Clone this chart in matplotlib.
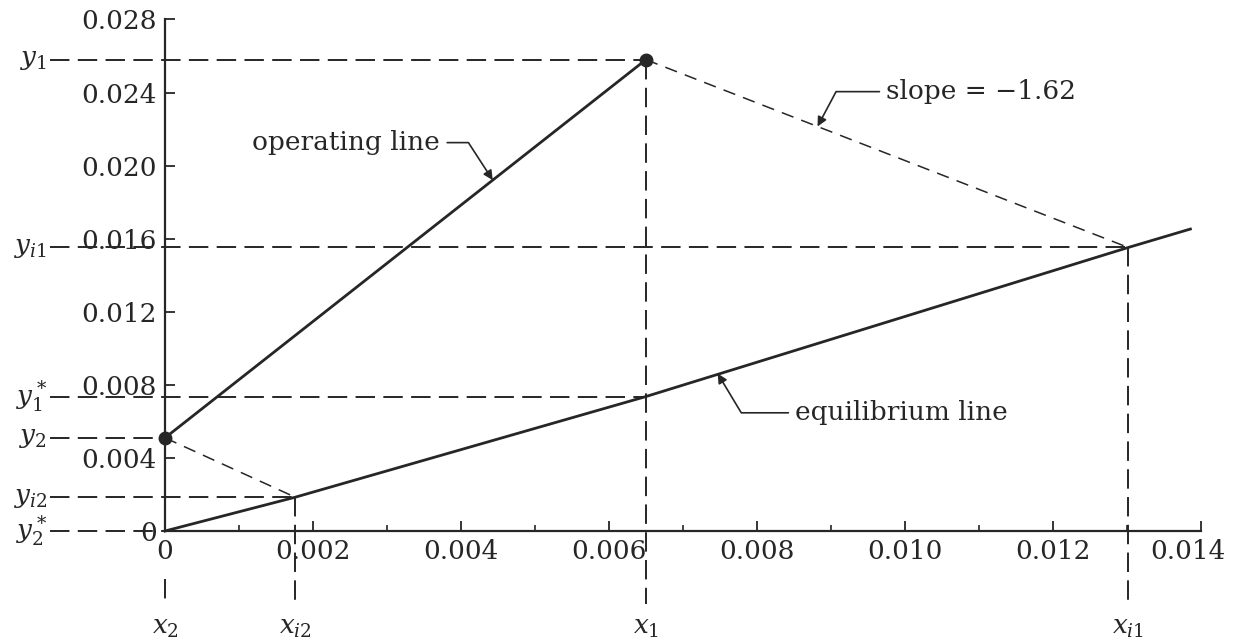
import matplotlib
matplotlib.use("Agg")
import matplotlib.pyplot as plt
from matplotlib.ticker import FixedLocator, FixedFormatter, MultipleLocator

plt.rcParams['font.family'] = ['DejaVu Serif']
plt.rcParams['mathtext.fontset'] = 'dejavuserif'
plt.rcParams['lines.scale_dashes'] = False

# 坐标轴刻度
x_ticks = [0, 0.002, 0.004, 0.006, 0.008, 0.010, 0.012, 0.014]
x_tick_labels = ["0", "0.002", "0.004", "0.006", "0.008", "0.010", "0.012", "0.014"]
y_ticks = [0, 0.004, 0.008, 0.012, 0.016, 0.020, 0.024, 0.028]
y_tick_labels = ["0", "0.004", "0.008", "0.012", "0.016", "0.020", "0.024", "0.028"]

# 平衡线 / 操作线
eq_x = [0, 0.00176, 0.0065, 0.01302, 0.01386]
eq_y = [0, 0.00185, 0.00736, 0.01552, 0.01653]
x2, y2 = 0.0, 0.0051
x1, y1 = 0.0065, 0.0258
op_x = [x2, x1]
op_y = [y2, y1]

# 界面浓度
xi1, yi1 = 0.01302, 0.01552
xi2, yi2 = 0.00176, 0.00185
y1_star = 0.00736
y2_star = 0.0

ink = '#262626'
fig = plt.figure(figsize=(12.36, 6.41), dpi=100)
ax = fig.add_axes([0.1335, 0.1716, 0.838, 0.798])
ax.set_xlim(0, 0.014)
ax.set_ylim(0, 0.028)
for s in ['top', 'right']:
    ax.spines[s].set_visible(False)
for s in ['left', 'bottom']:
    ax.spines[s].set_linewidth(1.6)
    ax.spines[s].set_color(ink)

ax.xaxis.set_major_locator(FixedLocator(x_ticks))
# 最后一个标签单独画，往左挪一点免得被裁掉
ax.xaxis.set_major_formatter(FixedFormatter(x_tick_labels[:-1] + [""]))
ax.xaxis.set_minor_locator(MultipleLocator(0.001))
ax.yaxis.set_major_locator(FixedLocator(y_ticks))
ax.yaxis.set_major_formatter(FixedFormatter(y_tick_labels))
ax.tick_params(which='major', direction='in', length=7, width=1.3, colors=ink, labelsize=19, pad=6)
ax.tick_params(which='minor', direction='in', length=4, width=1.2, colors=ink)
ax.tick_params(axis='y', which='minor', left=False)
ax.annotate(x_tick_labels[-1], xy=(x_ticks[-1], 0), xytext=(-9, -6), textcoords='offset points',
            ha='center', va='top', fontsize=19, color=ink, annotation_clip=False)

# 实线
ax.plot(eq_x, eq_y, color=ink, lw=2.0, clip_on=False, zorder=3)
ax.plot(op_x, op_y, color=ink, lw=2.0, clip_on=False, zorder=3)
ax.plot([x1, x2], [y1, y2], 'o', color=ink, ms=9, clip_on=False, zorder=4)

# 斜率虚线
thin = dict(color=ink, lw=1.1, dashes=(9, 6), clip_on=False, zorder=2)
ax.plot([x1, xi1], [y1, yi1], **thin)
ax.plot([x2, xi2], [y2, yi2], **thin)

# 辅助虚线
guide = dict(color=ink, lw=1.4, dashes=(14, 6), clip_on=False, zorder=2)
x_left = -0.00156
y_bot = -0.0040
for yv, xv in [(y1, x1), (yi1, xi1), (y1_star, x1), (y2, x2), (yi2, xi2), (y2_star, x2)]:
    ax.plot([x_left, xv], [yv, yv], **guide)
for xv, yv in [(xi2, yi2), (x1, y1), (xi1, yi1)]:
    ax.plot([xv, xv], [yv, y_bot], **guide)
ax.plot([x2, x2], [-0.0026, y_bot], **guide)

left_labels = [(y1, r'$y_1$'), (yi1, r'$y_{i1}$'), (y1_star, r'$y_1^*$'),
               (y2, r'$y_2$'), (yi2, r'$y_{i2}$'), (y2_star, r'$y_2^*$')]
for yv, lab in left_labels:
    ax.text(x_left - 0.00003, yv, lab, ha='right', va='center', fontsize=19, color=ink, clip_on=False)

bottom_labels = [(x2, r'$x_2$'), (xi2, r'$x_{i2}$'), (x1, r'$x_1$'), (xi1, r'$x_{i1}$')]
for xv, lab in bottom_labels:
    ax.text(xv, -0.0053, lab, ha='center', va='center', fontsize=19, color=ink, clip_on=False)

# 标注
arrow = dict(arrowstyle='-|>', color=ink, lw=1.2, mutation_scale=14, shrinkA=3, shrinkB=0)
ax.annotate('operating line', xy=(0.00443, y2 + (y1 - y2) / (x1 - x2) * 0.00443),
            xytext=(0.00372, 0.02126), ha='right', va='center', fontsize=19, color=ink,
            arrowprops=dict(arrow, relpos=(1, 0.5), connectionstyle='angle,angleA=0,angleB=-57,rad=0'))
ax.annotate('slope = \u22121.62', xy=(0.00882, y1 + (yi1 - y1) / (xi1 - x1) * (0.00882 - x1)),
            xytext=(0.00975, 0.02405), ha='left', va='center', fontsize=19, color=ink,
            arrowprops=dict(arrow, relpos=(0, 0.5), connectionstyle='angle,angleA=0,angleB=62,rad=0'))
ax.annotate('equilibrium line', xy=(0.00747, 0.00862),
            xytext=(0.00852, 0.00647), ha='left', va='center', fontsize=19, color=ink,
            arrowprops=dict(arrow, relpos=(0, 0.5), connectionstyle='angle,angleA=0,angleB=-59,rad=0'))

fig.savefig('out.png', dpi=100)
